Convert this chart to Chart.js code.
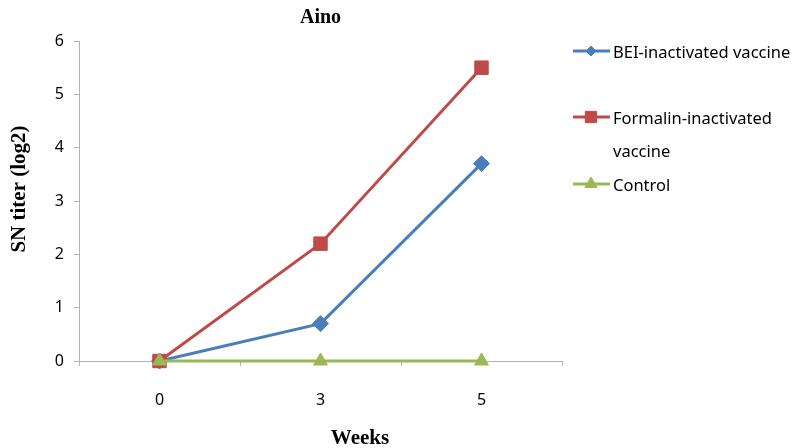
<!DOCTYPE html>
<html>
<head>
<meta charset="utf-8">
<script src="https://cdn.jsdelivr.net/npm/chart.js@4/dist/chart.umd.min.js"></script>
<style>
html,body{margin:0;padding:0;background:#fff;}
#wrap{width:796px;height:448px;position:relative;}
</style>
</head>
<body>
<div id="wrap"><canvas id="c" width="796" height="448"></canvas></div>
<script>
const categories = ['0', '3', '5'];
const bei = [0, 0.7, 3.7];
const formalin = [0, 2.2, 5.5];
const control = [0, 0, 0];
const seriesNames = [['BEI-inactivated vaccine'], ['Formalin-inactivated', 'vaccine'], ['Control']];
const yTicks = [0, 1, 2, 3, 4, 5, 6];
const chartTitle = 'Aino';
const xTitle = 'Weeks';
const yTitle = 'SN titer (log2)';

const BLUE = '#4A7EBB', RED = '#BE4B48', GREEN = '#98B954';
const AXIS = '#b3b3b3';
const SANS = '"Noto Sans", "Open Sans", sans-serif';
const SERIF = '"Liberation Serif", "Times New Roman", serif';

const legendMarkers = [
  {style: 'rectRot', r: 5},
  {style: 'rect', r: 8},
  {style: 'triangle', r: 7}
];

const customPlugin = {
  id: 'custom',
  afterDraw(chart) {
    const ctx = chart.ctx;
    ctx.save();
    ctx.fillStyle = '#000';
    // x axis title
    ctx.font = 'bold 21px ' + SERIF;
    ctx.textAlign = 'center';
    ctx.textBaseline = 'alphabetic';
    ctx.fillText(xTitle, 360, 444);
    // y axis title
    ctx.save();
    ctx.translate(20, 189);
    ctx.rotate(-Math.PI / 2);
    ctx.textBaseline = 'middle';
    ctx.fillText(yTitle, 0, 0);
    ctx.restore();
    // legend
    const rows = [51, 117, 184];
    chart.data.datasets.forEach((ds, i) => {
      const y = rows[i];
      ctx.strokeStyle = ds.borderColor;
      ctx.lineWidth = 3;
      ctx.beginPath();
      ctx.moveTo(573, y);
      ctx.lineTo(610, y);
      ctx.stroke();
      ctx.fillStyle = ds.backgroundColor;
      ctx.strokeStyle = ds.borderColor;
      const m = legendMarkers[i];
      if (Chart.helpers && Chart.helpers.drawPoint) {
        ctx.lineWidth = 1;
        Chart.helpers.drawPoint(ctx, {pointStyle: m.style, radius: m.r, rotation: 0, borderWidth: 1}, 591, y);
      }
      ctx.fillStyle = '#000';
      ctx.font = '16.5px ' + SANS;
      ctx.textAlign = 'left';
      ctx.textBaseline = 'middle';
      seriesNames[i].forEach((t, j) => {
        ctx.fillText(t, 613, y + 2 + j * 33);
      });
    });
    ctx.restore();
  }
};

new Chart(document.getElementById('c'), {
  type: 'line',
  data: {
    labels: categories,
    datasets: [
      {label: seriesNames[0].join(' '), data: bei, borderColor: BLUE, backgroundColor: BLUE, clip: false,
       pointStyle: 'rectRot', pointRadius: 8, pointBorderWidth: 1, borderWidth: 3, order: 3},
      {label: seriesNames[1].join(' '), data: formalin, borderColor: RED, backgroundColor: RED, clip: false,
       pointStyle: 'rect', pointRadius: 9.5, pointBorderWidth: 1, borderWidth: 3, order: 2},
      {label: seriesNames[2].join(' '), data: control, borderColor: GREEN, backgroundColor: GREEN, clip: false,
       pointStyle: 'triangle', pointRadius: 8, pointBorderWidth: 1, borderWidth: 3, order: 1}
    ]
  },
  options: {
    responsive: false,
    animation: false,
    devicePixelRatio: 1,
    events: [],
    layout: {padding: {left: 0, right: 234, top: 0, bottom: 0}},
    plugins: {
      legend: {display: false},
      tooltip: {enabled: false},
      title: {
        display: true, text: chartTitle, fullSize: false, color: '#000',
        font: {family: SERIF, size: 20, weight: 'bold'},
        padding: {top: 6, bottom: 11}
      }
    },
    scales: {
      x: {
        type: 'category',
        offset: true,
        grid: {display: true, drawOnChartArea: false, offset: true, tickLength: 5, color: AXIS, tickColor: AXIS},
        border: {display: true, color: AXIS, width: 1},
        ticks: {color: '#000', font: {family: SANS, size: 16}, padding: 25, maxRotation: 0},
        afterFit(s) { s.height = 87; }
      },
      y: {
        min: 0, max: 6,
        afterBuildTicks(s) { s.ticks = yTicks.map(v => ({value: v})); },
        grid: {display: true, drawOnChartArea: false, tickLength: 5, color: AXIS, tickColor: AXIS},
        border: {display: true, color: AXIS, width: 1},
        ticks: {color: '#000', font: {family: SANS, size: 16}, padding: 10},
        afterFit(s) { s.width = 79; }
      }
    }
  },
  plugins: [customPlugin]
});
</script>
</body>
</html>
